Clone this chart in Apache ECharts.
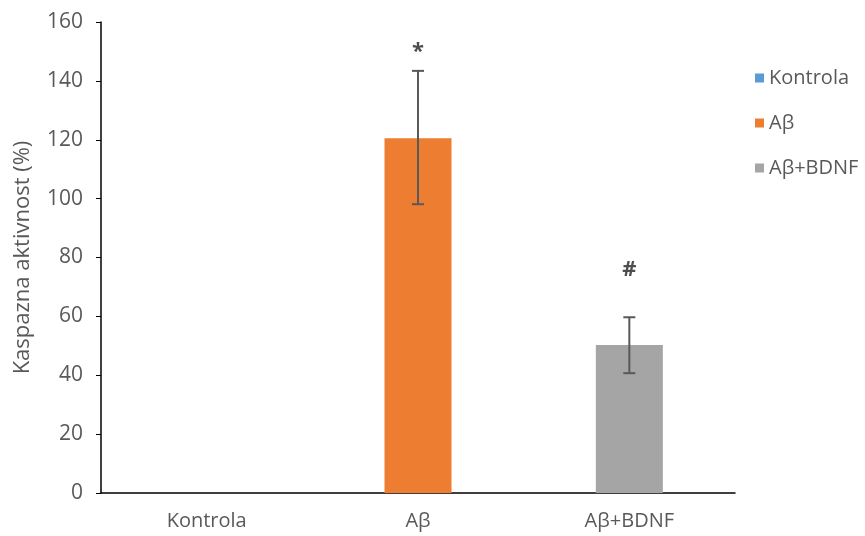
<!DOCTYPE html>
<html><head><meta charset="utf-8">
<script src="https://cdn.jsdelivr.net/npm/echarts@6/dist/echarts.min.js"></script>
<style>html,body{margin:0;padding:0;background:#fff}#c{width:865px;height:536px}</style>
</head><body><div id="c"></div>
<script>
const categories = ['Kontrola', 'Aβ', 'Aβ+BDNF'];
const values = [0, 120.5, 50.3];
const errLow = [0, 98.1, 40.7];
const errHigh = [0, 143.4, 59.7];
const marks = ['', '*', '#'];
const markY = [null, 150, 76];
const colors = ['#5b9bd5', '#ed7d31', '#a5a5a5'];
const yTicks = [0, 20, 40, 60, 80, 100, 120, 140, 160];

const font = 'Open Sans, Liberation Sans, sans-serif';
const chart = echarts.init(document.getElementById('c'));
const barSeries = categories.map((name, i) => ({
  name: name, type: 'bar', stack: 'all', barWidth: 67,
  itemStyle: { color: colors[i] },
  data: categories.map((_, j) => j === i ? values[i] : '-')
}));
const errData = categories.map((_, i) => [i, errLow[i], errHigh[i]]).filter(d => d[2] > 0);
chart.setOption({
  animation: false,
  grid: { left: 101, right: 130, top: 22, bottom: 43 },
  legend: {
    orient: 'vertical', left: 750, top: 63, itemGap: 25, itemWidth: 9, itemHeight: 9, icon: 'rect',
    textStyle: { color: '#595959', fontSize: 20, fontFamily: font, padding: [0, 0, 0, 0] },
    data: categories
  },
  xAxis: {
    type: 'category', data: categories,
    axisLine: { lineStyle: { color: '#000', width: 1.5 } },
    axisTick: { show: false },
    axisLabel: { color: '#595959', fontSize: 20, fontFamily: font, margin: 18 }
  },
  yAxis: {
    type: 'value', min: yTicks[0], max: yTicks[yTicks.length - 1], interval: 20,
    name: 'Kaspazna aktivnost (%)', nameLocation: 'middle', nameGap: 67, nameRotate: 90,
    nameTextStyle: { color: '#595959', fontSize: 22, fontFamily: font },
    axisLine: { show: true, lineStyle: { color: '#000', width: 1.5 } },
    axisTick: { show: true, length: 5, lineStyle: { color: '#000' } },
    splitLine: { show: false },
    axisLabel: { color: '#595959', fontSize: 21, fontFamily: font, margin: 18 }
  },
  series: barSeries.concat([
    {
      type: 'custom', name: 'err', z: 10,
      renderItem: function (params, api) {
        const x = api.coord([api.value(0), 0])[0];
        const lo = api.coord([api.value(0), api.value(1)])[1];
        const hi = api.coord([api.value(0), api.value(2)])[1];
        const w = 6;
        const st = { stroke: '#595959', lineWidth: 2 };
        return { type: 'group', children: [
          { type: 'line', shape: { x1: x, y1: lo, x2: x, y2: hi }, style: st },
          { type: 'line', shape: { x1: x - w, y1: lo, x2: x + w, y2: lo }, style: st },
          { type: 'line', shape: { x1: x - w, y1: hi, x2: x + w, y2: hi }, style: st }
        ]};
      },
      data: errData
    },
    {
      type: 'scatter', name: 'marks', symbolSize: 0, z: 11,
      label: { show: true, position: 'inside', color: '#222', fontSize: 22, fontWeight: 'bold', fontFamily: font,
        formatter: p => marks[p.value[0]] },
      data: categories.map((_, i) => [i, markY[i]]).filter(d => d[1] !== null)
    }
  ])
});
</script></body></html>
